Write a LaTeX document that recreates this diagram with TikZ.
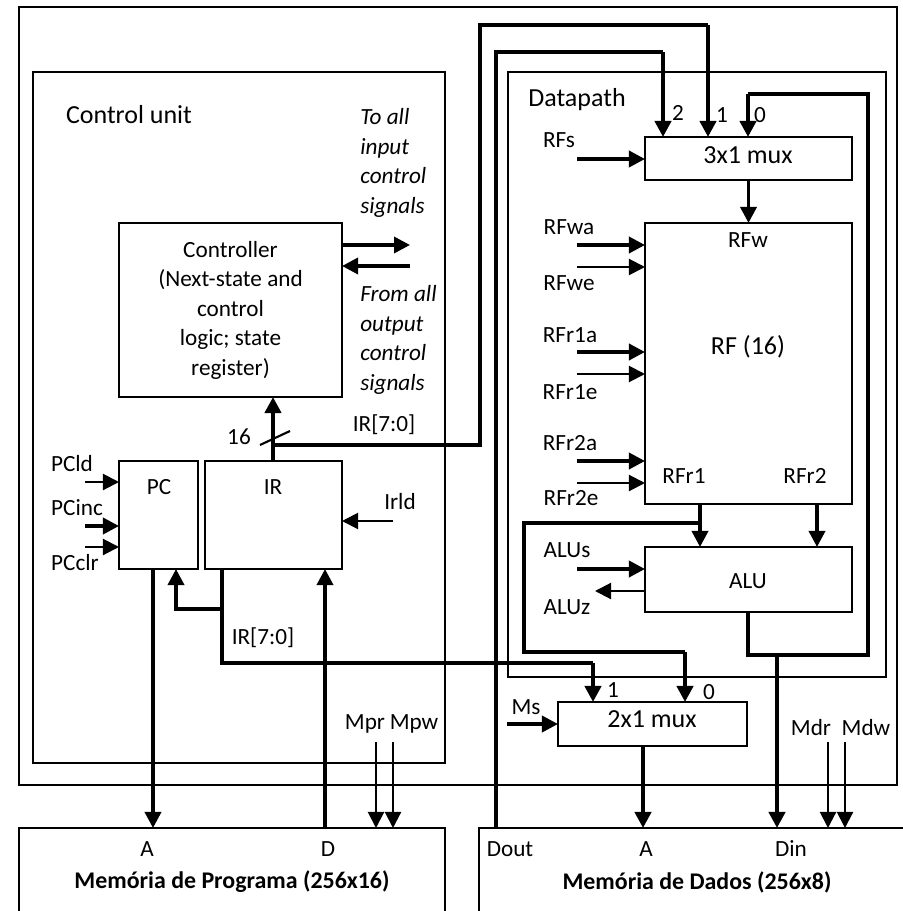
\documentclass[tikz,border=0pt]{standalone}
\usepackage{fontspec}
\setmainfont{Carlito}
\usetikzlibrary{arrows.meta}
\begin{document}
\begin{tikzpicture}[
    x=0.025cm, y=-0.025cm,
    >={Triangle[length=4mm,width=4mm]},
    moldura/.style={draw, line width=1.6pt, inner sep=0pt, outer sep=0pt},
    bloco/.style={draw, line width=1.3pt, fill=white, inner sep=0pt, outer sep=0pt, align=center},
    rotulo/.style={inner sep=0pt, font=\fontsize{16.5}{21}\selectfont},
    grande/.style={inner sep=0pt, font=\fontsize{18.5}{22}\selectfont},
    fio/.style={line width=3pt, line join=miter},
    fiom/.style={line width=2.5pt, line join=miter},
    sinal/.style={->, line width=2.5pt},
    sinalf/.style={->, line width=1.5pt}
]
\useasboundingbox (0,0) rectangle (902,911);

\node[moldura, minimum width=21.95cm, minimum height=19.45cm] (geral) at (458,396) {};
\node[moldura, minimum width=10.3cm, minimum height=17.275cm] (controle) at (239,417.5) {};
\node[moldura, minimum width=9.45cm, minimum height=15.125cm] (dados) at (697,374.5) {};

\node[bloco, minimum width=5.575cm, minimum height=4.35cm, font=\fontsize{16.5}{21}\selectfont] (ctrl) at (230.5,310) {Controller\\(Next-state and\\control\\logic; state\\register)};
\node[bloco, minimum width=1.975cm, minimum height=2.7cm] (pc) at (158.5,515) {};
\node[bloco, minimum width=3.425cm, minimum height=2.7cm] (ir) at (273.5,515) {};
\node[bloco, minimum width=5.175cm, minimum height=1.075cm] (mux3) at (748.5,158.5) {};
\node[bloco, minimum width=5.175cm, minimum height=7.025cm] (rf) at (748.5,363.5) {};
\node[bloco, minimum width=5.175cm, minimum height=1.625cm] (alu) at (748.5,579.5) {};
\node[bloco, minimum width=4.725cm, minimum height=1.1cm] (mux2) at (652.5,724) {};
\node[bloco, minimum width=10.65cm, minimum height=2.55cm] (mprog) at (232,879) {};
\node[bloco, minimum width=11.025cm, minimum height=2.55cm] (mdados) at (699.5,879) {};

\node[grande] (tcontrole) at (129,115) {Control unit};
\node[rotulo, anchor=west, align=left, font=\fontsize{16.5}{21}\selectfont\itshape] (tpara) at (360,163) {To all\\input\\control\\signals};
\node[rotulo, anchor=west, align=left, font=\fontsize{16.5}{21}\selectfont\itshape] (tde) at (360,340) {From all\\output\\control\\signals};
\node[grande] (tdados) at (577,100) {Datapath};
\node[grande] (tmux3) at (748,155) {3x1 mux};
\node[grande] (tmux2) at (652,719) {2x1 mux};
\node[grande] (trf) at (748,347) {RF (16)};
\node[rotulo] (talu) at (748,581) {ALU};
\node[rotulo] (trfw) at (748,240) {RFw};
\node[rotulo] (trfr1) at (684,476) {RFr1};
\node[rotulo] (trfr2) at (805,476) {RFr2};
\node[rotulo] (tpc) at (159,487) {PC};
\node[rotulo] (tir) at (273,487) {IR};
\node[rotulo] (t2) at (678,113) {2};
\node[rotulo] (t1) at (722,115) {1};
\node[rotulo] (t0) at (760,115) {0};
\node[rotulo] (tm1) at (613,690) {1};
\node[rotulo] (tm0) at (709,692) {0};
\node[rotulo] (t16) at (239,437) {16};
\node[rotulo] (tirs) at (384,425) {IR[7:0]};
\node[rotulo] (tiri) at (263,638) {IR[7:0]};

\node[rotulo] (trfs) at (559,140) {RFs};
\node[rotulo] (trfwa) at (569,227) {RFwa};
\node[rotulo] (trfwe) at (569,283) {RFwe};
\node[rotulo] (trfr1a) at (570,335) {RFr1a};
\node[rotulo] (trfr1e) at (570,392) {RFr1e};
\node[rotulo] (trfr2a) at (570,443) {RFr2a};
\node[rotulo] (trfr2e) at (571,498) {RFr2e};
\node[rotulo] (talus) at (567,550) {ALUs};
\node[rotulo] (taluz) at (567,607) {ALUz};
\node[rotulo] (tms) at (526,707) {Ms};
\node[rotulo] (tpcld) at (72,464) {PCld};
\node[rotulo] (tpcinc) at (77,508) {PCinc};
\node[rotulo] (tpcclr) at (75,563) {PCclr};
\node[rotulo] (tirld) at (400,502) {Irld};
\node[rotulo] (tmpr) at (365,724) {Mpr};
\node[rotulo] (tmpw) at (414,724) {Mpw};
\node[rotulo] (tmdr) at (811,728) {Mdr};
\node[rotulo] (tmdw) at (866,728) {Mdw};

\node[rotulo] (ta1) at (147,849) {A};
\node[rotulo] (td1) at (328,849) {D};
\node[rotulo] (tdout) at (510,849) {Dout};
\node[rotulo] (ta2) at (646,849) {A};
\node[rotulo] (tdin) at (791,849) {Din};
\node[rotulo, font=\fontsize{17}{21}\selectfont\bfseries] (tmprog) at (232,882) {Memória de Programa (256x16)};
\node[rotulo, font=\fontsize{17}{21}\selectfont\bfseries] (tmdados) at (697,882) {Memória de Dados (256x8)};

\coordinate (pcld) at (85,482);
\coordinate (pcinc) at (85,526);
\coordinate (pcclr) at (85,547);
\coordinate (irld) at (393,521);
\coordinate (rfs) at (577,159);
\coordinate (rfwa) at (577,245);
\coordinate (rfwe) at (577,267);
\coordinate (rfr1a) at (577,352);
\coordinate (rfr1e) at (577,374);
\coordinate (rfr2a) at (577,461);
\coordinate (rfr2e) at (577,483);
\coordinate (alus) at (577,569);
\coordinate (aluz) at (595,591);
\coordinate (ms) at (507,724);
\coordinate (csai) at (410,245);
\coordinate (cent) at (410,266);
\coordinate (mpr) at (376,742);
\coordinate (mpw) at (393,742);
\coordinate (mdr) at (828,742);
\coordinate (mdw) at (845,742);

\coordinate (irs) at (273,445);
\coordinate (cortea) at (260,445);
\coordinate (corteb) at (290,431);
\coordinate (s1) at (480,445);
\coordinate (s2) at (480,25);
\coordinate (s3) at (708,25);
\coordinate (d1) at (496,52);
\coordinate (d2) at (663,52);
\coordinate (u1) at (748,655);
\coordinate (u2) at (868,655);
\coordinate (u3) at (868,94);
\coordinate (u4) at (748,94);
\coordinate (din) at (777,655);
\coordinate (r1) at (700,504);
\coordinate (r2) at (817,504);
\coordinate (r3) at (700,523);
\coordinate (r4) at (524,523);
\coordinate (r5) at (524,652);
\coordinate (r6) at (685,652);
\coordinate (i1) at (222,569);
\coordinate (i2) at (222,609);
\coordinate (i3) at (176,609);
\coordinate (i4) at (222,663);
\coordinate (i5) at (593,663);
\coordinate (pca) at (153,569);
\coordinate (memd) at (325,569);
\coordinate (muxa) at (643,746);

\draw[fio, ->] (ir.north -| irs) -- (irs |- ctrl.south);
\draw[line width=1.5pt] (cortea) -- (corteb);
\draw[fio] (irs) -- (s1) -- (s2) -- (s3);
\draw[fio, ->] (s3) -- (s3 |- mux3.north);
\draw[fiom] (d1 |- mdados.north) -- (d1) -- (d2);
\draw[fio, ->] (d2) -- (d2 |- mux3.north);
\draw[fio] (alu.south -| u1) -- (u1) -- (u2) -- (u3) -- (u4);
\draw[fio, ->] (u4) -- (u4 |- mux3.north);
\draw[fio, ->] (din) -- (din |- mdados.north);
\draw[fiom, ->] (mux3.south) -- (rf.north);
\draw[fiom, ->] (r1) -- (r1 |- alu.north);
\draw[fiom, ->] (r2) -- (r2 |- alu.north);
\draw[fio] (r3) -- (r4) -- (r5) -- (r6);
\draw[fio, ->] (r6) -- (r6 |- mux2.north);
\draw[fiom] (i1) -- (i4) -- (i5);
\draw[fio, ->] (i5) -- (i5 |- mux2.north);
\draw[fiom, ->] (i2) -- (i3) -- (i3 |- pc.south);
\draw[fiom, ->] (pca) -- (pca |- mprog.north);
\draw[fiom, ->] (memd |- mprog.north) -- (memd);
\draw[fio, ->] (muxa) -- (muxa |- mdados.north);

\draw[sinalf] (pcld) -- (pcld -| pc.west);
\draw[sinal] (pcinc) -- (pcinc -| pc.west);
\draw[sinalf] (pcclr) -- (pcclr -| pc.west);
\draw[sinalf] (irld) -- (irld -| ir.east);
\draw[sinal] (rfs) -- (rfs -| mux3.west);
\draw[sinal] (rfwa) -- (rfwa -| rf.west);
\draw[sinalf] (rfwe) -- (rfwe -| rf.west);
\draw[sinal] (rfr1a) -- (rfr1a -| rf.west);
\draw[sinalf] (rfr1e) -- (rfr1e -| rf.west);
\draw[sinal] (rfr2a) -- (rfr2a -| rf.west);
\draw[sinalf] (rfr2e) -- (rfr2e -| rf.west);
\draw[sinal] (alus) -- (alus -| alu.west);
\draw[sinalf] (aluz -| alu.west) -- (aluz);
\draw[sinal] (ms) -- (ms -| mux2.west);
\draw[sinal] (csai -| ctrl.east) -- (csai);
\draw[sinal] (cent) -- (cent -| ctrl.east);
\draw[sinalf] (mpr) -- (mpr |- mprog.north);
\draw[sinalf] (mpw) -- (mpw |- mprog.north);
\draw[sinalf] (mdr) -- (mdr |- mdados.north);
\draw[sinalf] (mdw) -- (mdw |- mdados.north);
\end{tikzpicture}
\end{document}
